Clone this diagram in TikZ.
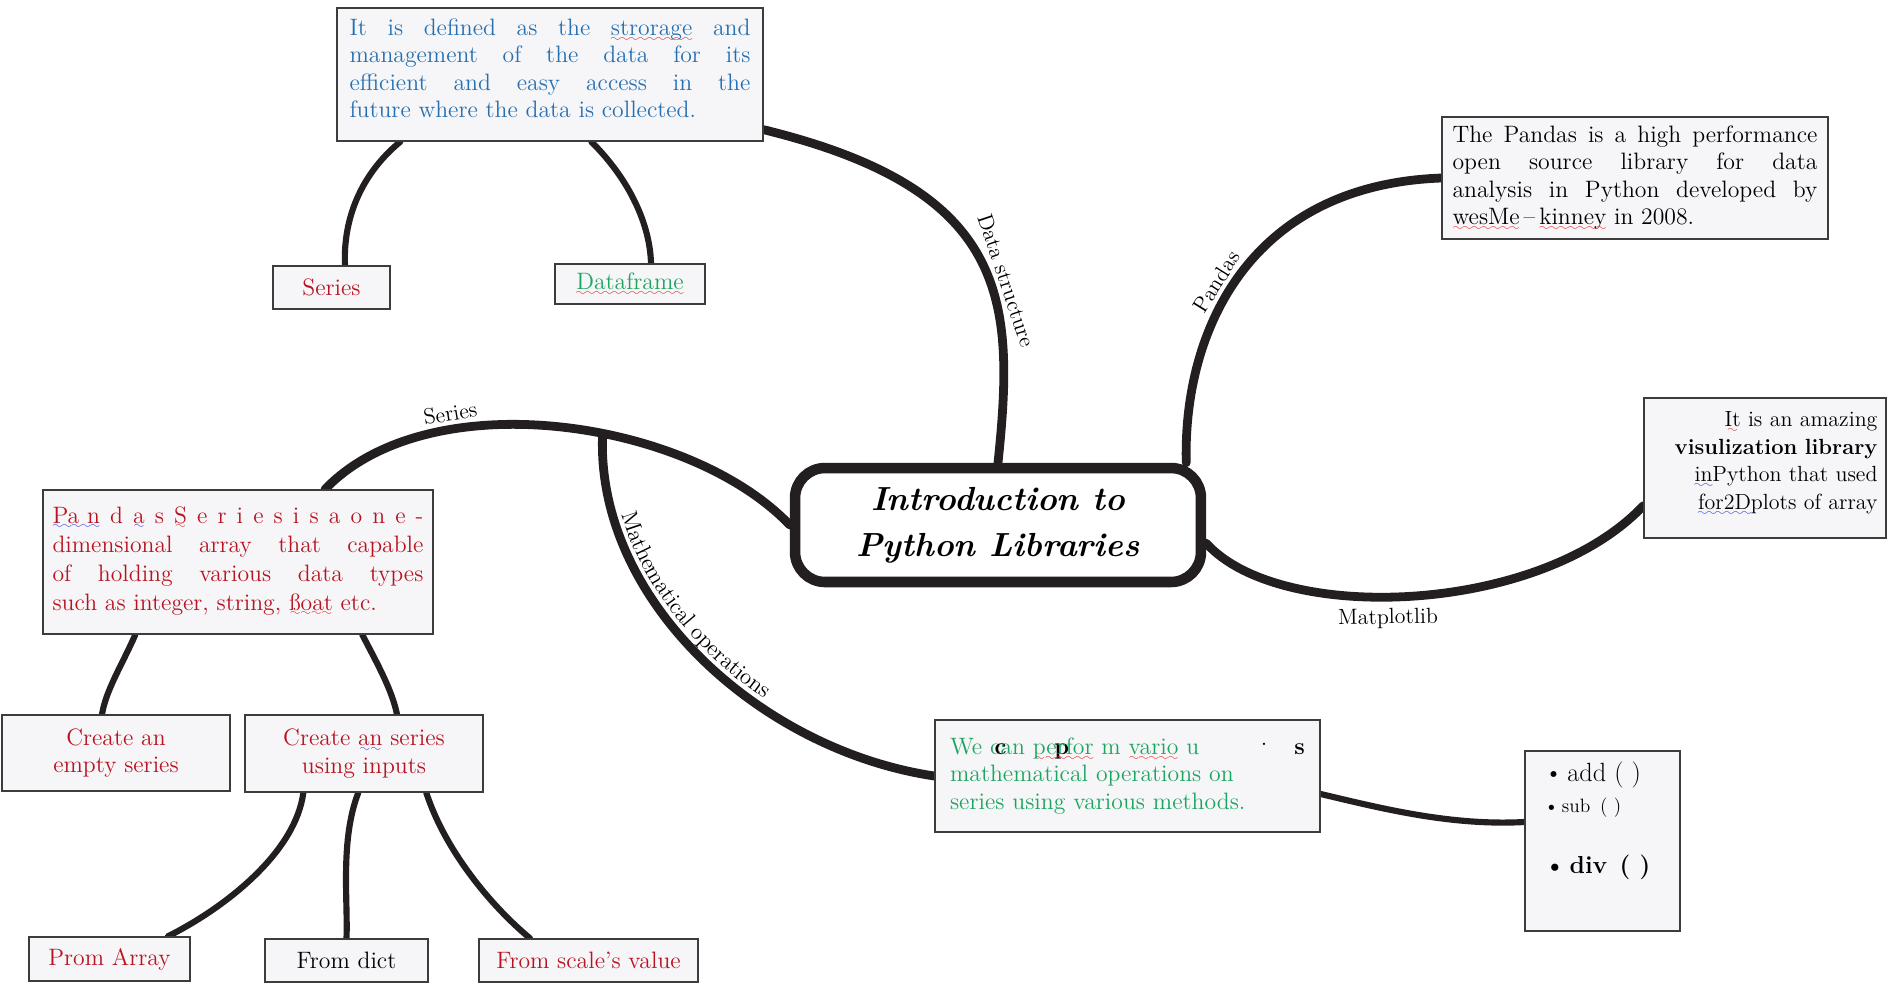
\documentclass[tikz,border=0pt]{standalone}
\usepackage{fontspec}
\usetikzlibrary{backgrounds, decorations.text}

\definecolor{ink}{RGB}{35,31,32}
\definecolor{boxline}{RGB}{60,60,60}
\definecolor{boxfill}{RGB}{246,246,248}
\definecolor{dsblue}{RGB}{38,112,178}
\definecolor{serred}{RGB}{185,18,32}
\definecolor{opgreen}{RGB}{28,165,95}
\definecolor{wavered}{RGB}{225,30,30}
\definecolor{waveblue}{RGB}{40,60,220}

% spell-check squiggles
\font\wavefont=lasy6
\newsavebox{\wordbox}
\newcommand{\squiggle}[2]{\leavevmode\sbox{\wordbox}{#2}\rlap{\textcolor{#1}{\lower3.2pt\hbox to \wd\wordbox{\xleaders\hbox{\wavefont\char58}\hfill}}}\usebox{\wordbox}}
\newcommand{\redwave}[1]{\squiggle{wavered}{#1}}
\newcommand{\bluewave}[1]{\squiggle{waveblue}{#1}}

\newcommand{\boxtext}{\fontsize{13.5}{15.6}\selectfont}
\newcommand{\labeltext}{\fontsize{12.5}{14}\selectfont}
\newcommand{\titletext}{\fontsize{19}{26}\selectfont\bfseries\itshape}
\newcommand{\lowpad}[1]{\rule[-#1]{0pt}{#1}}

\begin{document}
\begin{tikzpicture}[x=0.02cm, y=-0.02cm,
    infobox/.style={draw=boxline, fill=boxfill, line width=0.8pt, inner sep=0pt, font=\boxtext},
    branch/.style={draw=ink, line width=5pt, line cap=round},
    twig/.style={draw=ink, line width=3.5pt, line cap=round},
    brlabel/.style={font=\labeltext, inner sep=2pt}]
    \useasboundingbox (0,0) rectangle (1887,985);

    % Central topic
    \node[draw=ink, line width=6pt, rounded corners=0.6cm, fill=white,
          minimum width=8.12cm, minimum height=2.28cm, align=center, font=\titletext]
          (intro) at (998,525) {Introduction to\\Python Libraries};

    % Data structure
    \node[infobox, minimum width=8.52cm, minimum height=2.66cm, text width=8.02cm, align=justify, text=dsblue]
          (dsdef) at (550,74.5) {It is defined as the \redwave{strorage} and\linebreak management of the data for its\linebreak efficient and easy access in the\linebreak future where the data is collected.\lowpad{0.25cm}};
    \node[infobox, minimum width=2.34cm, minimum height=0.86cm, text=serred] (sernode) at (331.5,287.5) {Series};
    \node[infobox, minimum width=3.0cm, minimum height=0.8cm, text=opgreen] (dfnode) at (630,284) {\redwave{Dataframe}};

    % Pandas and Matplotlib
    \node[infobox, minimum width=7.72cm, minimum height=2.44cm, text width=7.3cm, align=justify]
          (pandas) at (1635,178) {The Pandas is a high performance\linebreak open source library for data\linebreak analysis in Python developed by\linebreak \redwave{wesMe}\,--\,\redwave{kinney} in 2008.};
    \node[infobox, minimum width=4.84cm, minimum height=2.8cm, text width=4.5cm, align=right, font=\fontsize{12.5}{15.7}\selectfont]
          (mpl) at (1765,468) {\redwave{It} is an amazing\\ \textbf{visulization library}\\ \bluewave{in}Python that used\\ \bluewave{for2D}plots of array\lowpad{0.3cm}};

    % Series
    \node[infobox, minimum width=7.8cm, minimum height=2.88cm, text width=7.42cm, align=justify, text=serred, font=\fontsize{13.5}{16.5}\selectfont]
          (psdef) at (238,562) {\bluewave{Pa n} d \bluewave{a} s \redwave{S} e r \redwave{i} e s \redwave{i} s a o n e -\linebreak dimensional array that capable\linebreak of holding various data types\linebreak such as integer, string, \redwave{ßoat} etc.\lowpad{0.15cm}};
    \node[infobox, minimum width=4.56cm, minimum height=1.52cm, align=center, text=serred] (empty) at (116,753) {Create an\\empty series};
    \node[infobox, minimum width=4.76cm, minimum height=1.54cm, align=center, text=serred] (inputs) at (364,753.5) {Create \bluewave{an} series\\using inputs};
    \node[infobox, minimum width=3.22cm, minimum height=0.88cm, text=serred] (array) at (109.5,959) {Prom Array};
    \node[infobox, minimum width=3.26cm, minimum height=0.86cm] (dict) at (346.5,960.5) {From dict};
    \node[infobox, minimum width=4.38cm, minimum height=0.86cm, text=serred] (scale) at (588.5,960.5) {From scale’s value};

    % Mathematical operations
    \node[infobox, minimum width=7.7cm, minimum height=2.24cm, text width=7.1cm, align=left, text=opgreen]
          (mathdef) at (1127.5,776) {\makebox[\hsize][l]{We c\rlap{\kern-0.25em\textcolor{black}{\textbf{c}}}an \redwave{pe}\rlap{\kern-0.1em\textcolor{black}{\textbf{p}}}\redwave{rfor} m \redwave{vario} u\hspace{2.6em}\textcolor{black}{\raisebox{0.9ex}{.}}\hfill\textcolor{black}{\textbf{s}}}\\ mathematical operations on\\ series using various methods.};
    \node[infobox, minimum width=3.1cm, minimum height=3.6cm] (methods) at (1602.5,841)
          {\parbox[c][3.16cm][t]{2.34cm}{{\fontsize{15}{18}\selectfont\textbullet\,add ( )\par}{\fontsize{11}{17.6}\selectfont\textbullet\,sub\enspace( )\par}\vspace{0.62cm}{\fontsize{14}{17}\selectfont\bfseries\textbullet\,div\enspace( )\par}}};

    \begin{scope}[on background layer]
        \fill[white] (0,0) rectangle (1887,985);

        % Main branches
        \draw[branch] (intro.north) .. controls (1015,300) and (1010,190) .. ([yshift=0.24cm]dsdef.south east)
            node[brlabel, sloped, above, pos=0.42] {Data structure};
        \draw[branch] ([xshift=-0.4cm]intro.north east) .. controls (1183,330) and (1250,185) .. (pandas.west)
            node[brlabel, sloped, above, pos=0.45] {Pandas};
        \draw[branch] (intro.-5) .. controls (1280,625) and (1540,615) .. ([yshift=0.66cm]mpl.south west)
            node[brlabel, sloped, below=2pt, pos=0.45] {Matplotlib};
        \draw[branch] (intro.west) .. controls (690,420) and (430,380) .. ([xshift=1.74cm]psdef.north)
            node[brlabel, sloped, above, pos=0.7] {Series} coordinate[pos=0.42] (fork);
        \draw[branch, postaction={decorate, decoration={text along path, raise=5pt,
                text align={left, left indent=1.7cm}, text={|\fontsize{13}{14}\selectfont|Mathematical operations}}}]
            (fork) .. controls (595,600) and (760,750) .. (mathdef.west);

        % Sub branches
        \draw[twig] ([xshift=1.28cm]dsdef.south west) .. controls (360,175) and (343,220) .. ([xshift=0.27cm]sernode.north);
        \draw[twig] ([xshift=5.1cm]dsdef.south west) .. controls (630,180) and (650,225) .. ([xshift=0.42cm]dfnode.north);
        \draw[twig] ([xshift=1.86cm]psdef.south west) .. controls (122,665) and (106,690) .. ([xshift=-0.28cm]empty.north);
        \draw[twig] ([xshift=6.4cm]psdef.south west) .. controls (378,665) and (392,690) .. ([xshift=0.66cm]inputs.north);
        \draw[twig] ([xshift=1.18cm]inputs.south west) .. controls (296,850) and (230,905) .. ([xshift=1.17cm]array.north);
        \draw[twig] ([xshift=2.28cm]inputs.south west) .. controls (340,840) and (348,900) .. (dict.north);
        \draw[twig] ([xshift=3.64cm]inputs.south west) .. controls (445,850) and (490,905) .. ([xshift=-1.17cm]scale.north);
        \draw[twig] ([yshift=-0.36cm]mathdef.east) .. controls (1380,808) and (1450,826) .. ([yshift=0.38cm]methods.west);
    \end{scope}
\end{tikzpicture}
\end{document}
